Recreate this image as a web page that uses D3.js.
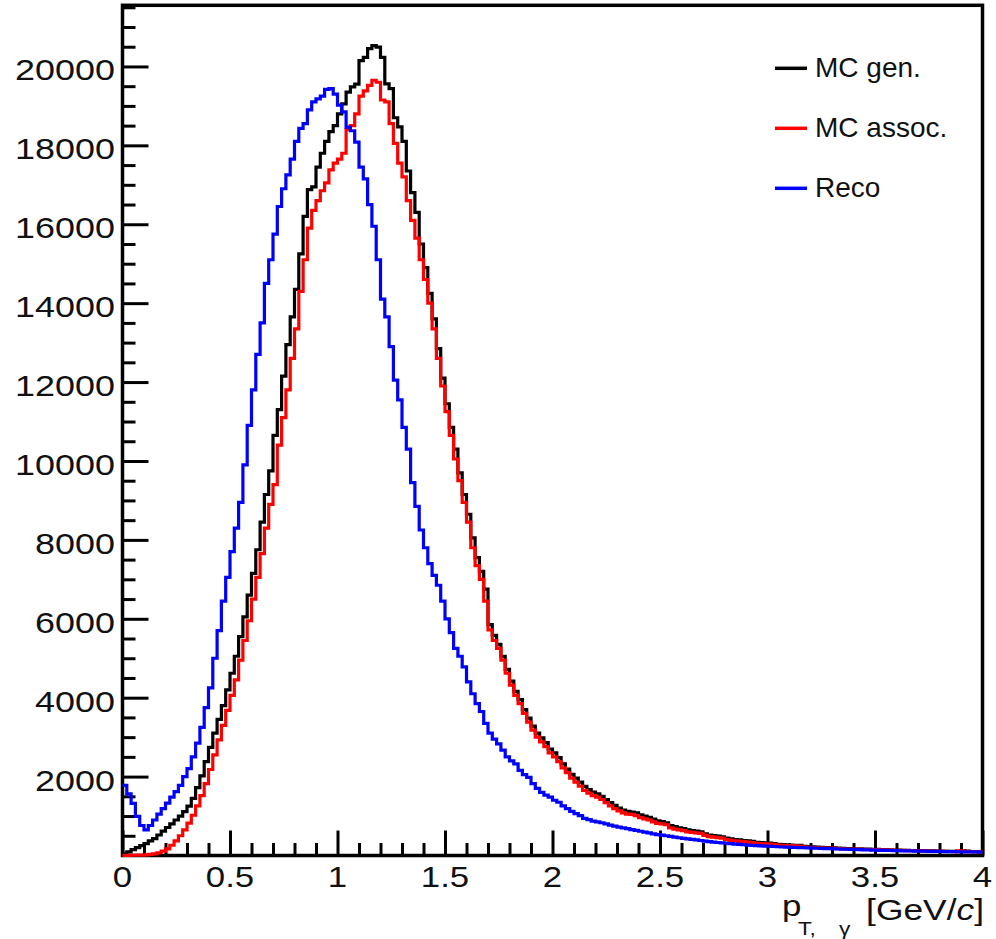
<!DOCTYPE html>
<html><head><meta charset="utf-8">
<script src="https://cdn.jsdelivr.net/npm/d3@7"></script>
<style>body{margin:0;background:#fff}svg{display:block}</style>
</head><body><svg id="c" width="996" height="939"></svg>
<script>
const seriesNames = ["MC gen.", "MC assoc.", "Reco"];
const seriesColors = ["#000000", "#ff0000", "#0000ff"];
const binLow = 0, binHigh = 4, binCount = 200;

const mcGen = [
40,90,150,200,250,300,370,430,520,620,
710,800,900,1000,1110,1250,1450,1720,2020,2380,
2740,3100,3450,3800,4200,4620,5050,5550,6050,6600,
7150,7750,8450,9150,9750,10650,11300,12150,12950,13650,
14350,15250,16200,16880,16950,17450,17800,18100,18350,18500,
18800,19050,19350,19480,19550,20150,20230,20450,20530,20490,
20230,19560,19440,18700,18470,18100,17350,16800,16300,15500,
14900,14250,13600,12850,12100,11450,10850,10300,9700,9150,
8650,8050,7550,7200,6750,5850,5580,5350,5050,4720,
4420,4160,3950,3700,3480,3280,3100,2980,2860,2700,
2600,2480,2320,2190,2060,1960,1860,1750,1670,1610,
1560,1500,1420,1340,1270,1200,1150,1120,1100,1080,
1030,1000,970,920,880,860,830,760,730,700,
680,650,630,620,600,550,520,505,490,475,
440,420,405,395,380,370,360,335,325,320,
312,300,285,275,270,265,260,255,235,225,
218,212,206,202,198,194,185,180,176,172,
170,166,163,160,157,154,150,146,141,138,
135,132,130,127,124,122,120,117,115,112,
109,107,105,103,100,115,110,102,98,96
];

const mcAssoc = [
5,5,6,8,12,18,28,42,70,110,
170,260,370,500,650,820,1020,1260,1520,1820,
2180,2550,2930,3300,3680,4060,4450,4950,5450,5950,
6500,7050,7650,8300,8900,9400,10400,11100,11800,12600,
13350,14300,15100,15900,16350,16600,16850,17050,17380,17550,
17650,17800,18400,18500,18800,19250,19380,19520,19650,19600,
19150,19100,18550,18050,17550,17200,16600,16100,15650,15100,
14600,14000,13350,12600,11900,11250,10650,10050,9500,8950,
8450,7800,7350,7000,6450,5720,5450,5250,4950,4620,
4320,4060,3850,3600,3380,3180,3000,2880,2760,2600,
2500,2380,2220,2100,1960,1860,1760,1650,1580,1520,
1480,1420,1340,1260,1190,1130,1080,1050,1040,1010,
960,930,900,850,815,800,780,700,670,650,
630,600,585,575,560,510,480,465,455,440,
400,385,370,360,350,340,330,305,300,295,
288,280,262,255,250,248,244,240,215,205,
200,196,192,190,186,182,172,168,165,162,
160,158,155,152,150,148,145,140,135,132,
130,128,125,123,120,118,116,114,112,108,
105,104,102,100,118,112,100,96,95,92
];

const reco = [
1775,1560,1320,990,760,650,760,900,1050,1190,
1330,1480,1620,1780,2000,2200,2500,2850,3250,3750,
4250,5000,5700,6450,7050,7700,8300,8950,9900,10900,
11800,12700,13500,14500,15100,15750,16450,16900,17250,17650,
18100,18430,18550,18900,19100,19180,19250,19420,19440,19300,
19020,18850,18460,18370,18080,17450,17150,16500,15950,15100,
14100,13650,12900,12050,11550,10850,10300,9450,8850,8250,
7800,7400,7100,6850,6450,6000,5650,5250,5050,4780,
4400,4100,3850,3650,3350,3100,2950,2830,2670,2500,
2400,2320,2160,2050,1980,1820,1700,1600,1530,1480,
1400,1350,1260,1190,1120,1060,1010,940,910,870,
850,830,800,770,745,720,700,680,655,635,
615,595,575,550,530,515,500,485,465,450,
435,420,410,395,380,365,350,340,330,320,
310,300,290,280,272,265,258,252,246,240,
235,228,222,216,212,208,204,200,196,192,
188,184,180,176,172,168,165,162,158,155,
152,148,145,142,138,135,132,130,127,124,
122,119,117,115,113,111,109,107,105,103,
101,100,98,97,95,94,92,91,90,88
];

const xMajorTicks = [0, 0.5, 1, 1.5, 2, 2.5, 3, 3.5, 4];
const xTickLabels = ["0", "0.5", "1", "1.5", "2", "2.5", "3", "3.5", "4"];
const yMajorTicks = [2000, 4000, 6000, 8000, 10000, 12000, 14000, 16000, 18000, 20000];
const yTickLabels = ["2000", "4000", "6000", "8000", "10000", "12000", "14000", "16000", "18000", "20000"];
const yMax = 21550;

const L = 122.5, R = 982.5, T = 5.3, B = 855.5;
const svg = d3.select("#c");
const x = d3.scaleLinear().domain([binLow, binHigh]).range([L, R]);
const y = d3.scaleLinear().domain([0, yMax]).range([B, T]);
const FONT = "'Liberation Sans', Arial, Helvetica, sans-serif";
const SX = 1.2, SY = 1.24;

// frame
svg.append("rect").attr("x", L).attr("y", T).attr("width", R - L).attr("height", B - T)
  .attr("fill", "none").attr("stroke", "#000").attr("stroke-width", 3.5);

// minor ticks
const xMinor = d3.range(0, 41).map(i => i * 0.1).filter(v => Math.abs(v * 2 - Math.round(v * 2)) > 1e-6);
const yMinor = d3.range(1, 44).map(i => i * 500).filter(v => v % 2000 !== 0 && v <= yMax);

function styleAxis(g) {
  g.select(".domain").remove();
  g.selectAll(".tick line").attr("stroke", "#000").attr("stroke-width", 3);
  g.selectAll(".tick text").remove();
}
svg.append("g").attr("transform", `translate(0,${B})`)
  .call(d3.axisBottom(x).tickValues(xMajorTicks).tickSize(-25).tickFormat("")).call(styleAxis);
svg.append("g").attr("transform", `translate(0,${B})`)
  .call(d3.axisBottom(x).tickValues(xMinor).tickSize(-12.5).tickFormat("")).call(styleAxis);
svg.append("g").attr("transform", `translate(${L},0)`)
  .call(d3.axisLeft(y).tickValues(yMajorTicks).tickSize(-26).tickFormat("")).call(styleAxis);
svg.append("g").attr("transform", `translate(${L},0)`)
  .call(d3.axisLeft(y).tickValues(yMinor).tickSize(-13).tickFormat("")).call(styleAxis);

// tick labels
svg.append("g").selectAll("text").data(xMajorTicks).join("text")
  .attr("transform", d => `translate(${x(d)},887) scale(${SX},1)`)
  .attr("text-anchor", "middle").attr("font-family", FONT).attr("font-size", 29).attr("fill", "#111")
  .text((d, i) => xTickLabels[i]);
svg.append("g").selectAll("text").data(yMajorTicks).join("text")
  .attr("transform", d => `translate(115,${y(d) + 14}) scale(${SY},1)`)
  .attr("text-anchor", "end").attr("font-family", FONT).attr("font-size", 29).attr("fill", "#111")
  .text((d, i) => yTickLabels[i]);

// histograms
const binW = (binHigh - binLow) / binCount;
const line = d3.line().x(d => x(d[0])).y(d => y(d[1])).curve(d3.curveStepAfter);
[mcGen, mcAssoc, reco].forEach((vals, k) => {
  const pts = vals.map((v, i) => [binLow + i * binW, v]);
  pts.push([binHigh, vals[vals.length - 1]]);
  svg.append("path").datum(pts).attr("d", line).attr("fill", "none")
    .attr("stroke", seriesColors[k]).attr("stroke-width", 3.2).attr("stroke-linejoin", "miter");
});

// legend
const legY = [68.3, 128.3, 188.3];
seriesNames.forEach((name, k) => {
  svg.append("line").attr("x1", 775).attr("x2", 807).attr("y1", legY[k]).attr("y2", legY[k])
    .attr("stroke", seriesColors[k]).attr("stroke-width", 3.5);
  svg.append("text").attr("x", 815).attr("y", legY[k] + 8.5).attr("font-family", FONT)
    .attr("font-size", 28).attr("fill", "#111").text(name);
});

// axis title
const tg = svg.append("g").attr("font-family", FONT).attr("fill", "#111");
tg.append("text").attr("transform", `translate(782,916) scale(${SX},1)`).attr("font-size", 29).text("p");
tg.append("text").attr("transform", `translate(798,935) scale(${SX},1)`).attr("font-size", 19).text("T,");
tg.append("text").attr("transform", `translate(839,935) scale(${SX},1)`).attr("font-size", 19).text("γ");
const br = tg.append("text").attr("transform", `translate(984,920) scale(1.22,1)`).attr("text-anchor", "end").attr("font-size", 29);
br.append("tspan").text("[GeV/");
br.append("tspan").attr("font-style", "italic").text("c");
br.append("tspan").text("]");
</script></body></html>
